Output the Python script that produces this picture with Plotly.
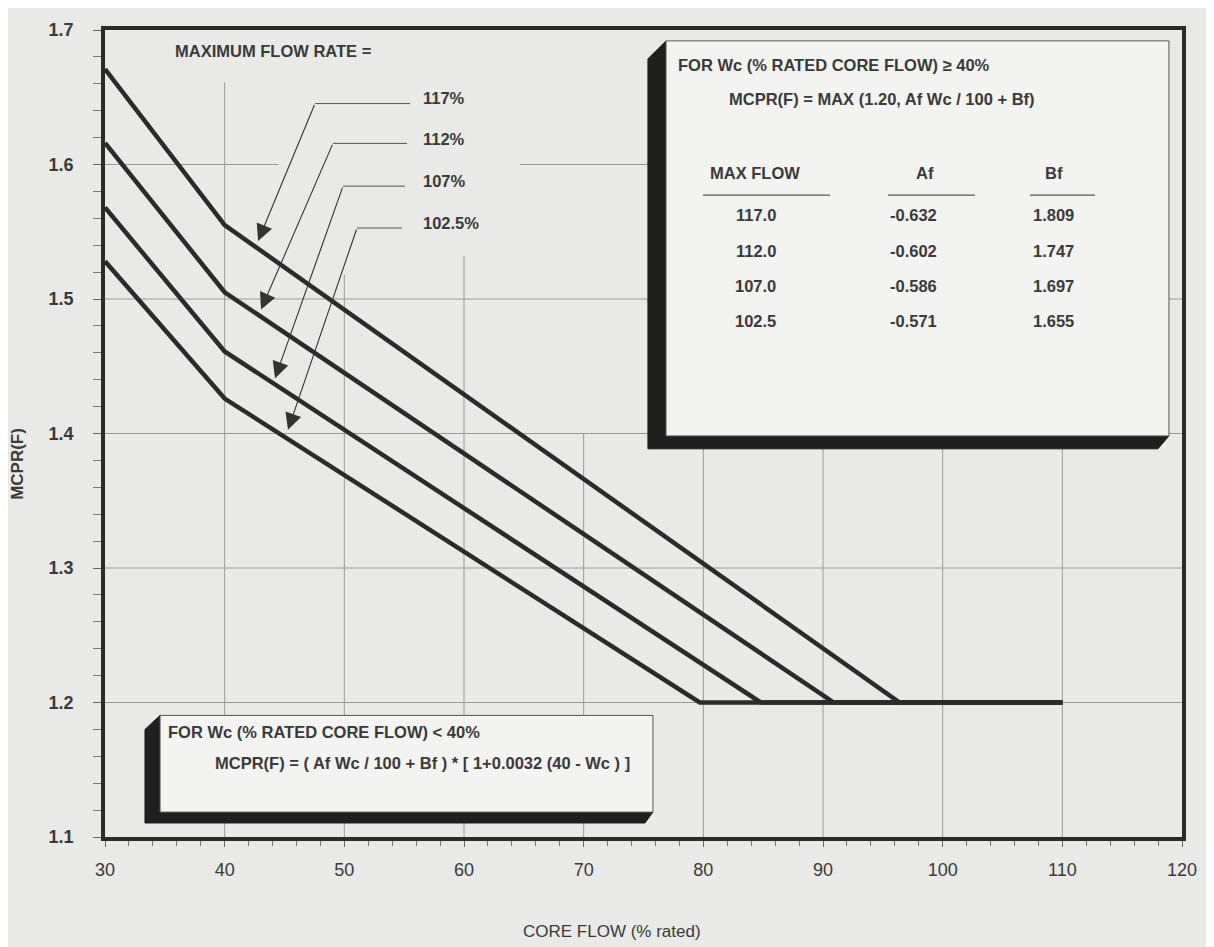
import plotly.graph_objects as go

# ---------------- data ----------------
series_names = ["117%", "112%", "107%", "102.5%"]
flow_117 = [30, 40, 96.4, 110]
mcpr_117 = [1.671, 1.555, 1.200, 1.200]
flow_112 = [30, 40, 90.9, 110]
mcpr_112 = [1.616, 1.505, 1.200, 1.200]
flow_107 = [30, 40, 84.8, 110]
mcpr_107 = [1.568, 1.461, 1.200, 1.200]
flow_1025 = [30, 40, 79.7, 110]
mcpr_1025 = [1.528, 1.426, 1.200, 1.200]

table_max_flow = ["117.0", "112.0", "107.0", "102.5"]
table_af = ["-0.632", "-0.602", "-0.586", "-0.571"]
table_bf = ["1.809", "1.747", "1.697", "1.655"]

x_ticks = [30, 40, 50, 60, 70, 80, 90, 100, 110, 120]
y_ticks = [1.1, 1.2, 1.3, 1.4, 1.5, 1.6, 1.7]
y_tick_text = ["1.1", "1.2", "1.3", "1.4", "1.5", "1.6", "1.7"]

# ---------------- styling / layout ----------------
INK = "#2b2b2b"
TXT = "#3a3a3a"
PAPER = "#e9e9e7"
FACE = "#f3f3f1"
GRID = "#9a9a9a"
FONT = "Liberation Sans, Arial, sans-serif"
FS = 16.5

fig = go.Figure()
for name, xs, ys in [("117%", flow_117, mcpr_117), ("112%", flow_112, mcpr_112),
                     ("107%", flow_107, mcpr_107), ("102.5%", flow_1025, mcpr_1025)]:
    fig.add_trace(go.Scatter(x=xs, y=ys, mode="lines", name=name,
                             line=dict(color=INK, width=4.5), showlegend=False,
                             hoverinfo="x+y"))

shapes = []
# partial grid lines (as drawn on the original sheet)
h_grid = [(1.6, 30, 44.5), (1.6, 64.7, 77), (1.5, 30, 120), (1.4, 30, 120),
          (1.3, 30, 120), (1.2, 30, 120)]
for y, x0, x1 in h_grid:
    shapes.append(dict(type="line", xref="x", yref="y", x0=x0, x1=x1, y0=y, y1=y,
                       line=dict(color=GRID, width=1), layer="below"))
v_grid = [(40, 1.661), (50, 1.518), (60, 1.532), (70, 1.40), (80, 1.40),
          (90, 1.40), (100, 1.40), (110, 1.40)]
for x, ytop in v_grid:
    shapes.append(dict(type="line", xref="x", yref="y", x0=x, x1=x, y0=1.1, y1=ytop,
                       line=dict(color=GRID, width=1), layer="below"))

# top-right 3D box
shapes.append(dict(type="path", xref="x", yref="y", layer="above",
                   path="M 76.88,1.6919 L 75.37,1.6786 L 75.37,1.3886 L 117.99,1.3886 "
                        "L 118.91,1.3982 L 76.88,1.3982 Z",
                   fillcolor="#1f1f1f", line=dict(color="#1f1f1f", width=1)))
shapes.append(dict(type="rect", xref="x", yref="y", layer="above",
                   x0=76.88, x1=118.91, y0=1.3982, y1=1.6919,
                   fillcolor=FACE, line=dict(color="#555555", width=1)))
# bottom-left 3D box
shapes.append(dict(type="path", xref="x", yref="y", layer="above",
                   path="M 34.60,1.1904 L 33.34,1.1800 L 33.34,1.1104 L 75.12,1.1104 "
                        "L 75.79,1.1185 L 34.60,1.1185 Z",
                   fillcolor="#1f1f1f", line=dict(color="#1f1f1f", width=1)))
shapes.append(dict(type="rect", xref="x", yref="y", layer="above",
                   x0=34.60, x1=75.79, y0=1.1185, y1=1.1904,
                   fillcolor=FACE, line=dict(color="#555555", width=1)))

# table underlines
for x0, x1 in [(79.97, 90.58), (95.43, 102.70), (107.30, 112.73)]:
    shapes.append(dict(type="line", xref="x", yref="y", layer="above",
                       x0=x0, x1=x1, y0=1.5772, y1=1.5772,
                       line=dict(color="#555555", width=1.2)))

# leader lines for the flow labels: (label y, horizontal end x, elbow x, elbow y, tip x, tip y)
leaders = [(1.6475, 55.49, 47.55, 1.6453, 42.79, 1.5432),
           (1.6172, 55.24, 49.05, 1.6157, 43.04, 1.4922),
           (1.5854, 55.07, 49.89, 1.5839, 44.21, 1.4411),
           (1.5543, 54.82, 51.06, 1.5528, 45.29, 1.4027)]

annotations = []
for name, (ly, hx, ex, ey, tx, ty) in zip(series_names, leaders):
    shapes.append(dict(type="line", xref="x", yref="y", x0=hx, x1=ex, y0=ey, y1=ey,
                       line=dict(color="#555555", width=1), layer="above"))
    annotations.append(dict(x=tx, y=ty, ax=ex, ay=ey, xref="x", yref="y",
                            axref="x", ayref="y", text="", showarrow=True,
                            arrowhead=2, arrowsize=3.0, arrowwidth=1.1,
                            arrowcolor="#333333", standoff=0))
    annotations.append(dict(x=56.4, y=ly + 0.002, xref="x", yref="y", text=name,
                            showarrow=False, xanchor="left", yanchor="middle",
                            font=dict(family=FONT, size=FS, color=TXT, weight="bold")))

def txt(x, y, s, size=FS, xanchor="left"):
    annotations.append(dict(x=x, y=y, xref="x", yref="y", text=s, showarrow=False,
                            xanchor=xanchor, yanchor="middle",
                            font=dict(family=FONT, size=size, color=TXT, weight="bold")))

txt(35.68, 1.6845, "MAXIMUM FLOW RATE =")
txt(77.71, 1.6741, "FOR Wc (% RATED CORE FLOW) ≥ 40%")
txt(82.0, 1.6490, "MCPR(F) = MAX (1.20, Af Wc / 100 + Bf)")
txt(84.3, 1.5935, "MAX FLOW", xanchor="center")
txt(98.5, 1.5935, "Af", xanchor="center")
txt(109.3, 1.5935, "Bf", xanchor="center")
row_y = [1.5625, 1.5358, 1.5099, 1.4840]
for ry, mf, af, bf in zip(row_y, table_max_flow, table_af, table_bf):
    txt(84.4, ry, mf, xanchor="center")
    txt(97.6, ry, af, xanchor="center")
    txt(109.3, ry, bf, xanchor="center")

txt(35.1, 1.1780, "FOR Wc (% RATED CORE FLOW) < 40%")
txt(39.02, 1.1552, "MCPR(F) = ( Af Wc / 100 + Bf ) * [ 1+0.0032 (40 - Wc ) ]")

# axis titles
annotations.append(dict(xref="paper", yref="paper", x=(18 - 105) / 1077, y=(837 - 462) / 811,
                        text="MCPR(F)", showarrow=False, textangle=-90,
                        xanchor="center", yanchor="middle",
                        font=dict(family=FONT, size=17, color=TXT, weight="bold")))
annotations.append(dict(xref="paper", yref="paper", x=(612 - 105) / 1077, y=-(932 - 837) / 811,
                        text="CORE FLOW (% rated)", showarrow=False,
                        xanchor="center", yanchor="middle",
                        font=dict(family=FONT, size=17, color=TXT)))

# the page body adds an 8px offset, so the figure is 8px smaller and margins compensate
fig.update_layout(
    width=1206, height=939,
    margin=dict(l=97, r=32, t=18, b=110),
    paper_bgcolor=PAPER, plot_bgcolor=PAPER,
    shapes=shapes, annotations=annotations,
    showlegend=False,
    xaxis=dict(range=[30, 120], tickvals=x_ticks, showgrid=False, zeroline=False,
               showline=True, mirror=True, linecolor=INK, linewidth=3.5,
               ticks="outside", ticklen=6, tickcolor="#666666", tickwidth=1,
               minor=dict(dtick=2, ticks="outside", ticklen=5, tickcolor="#777777"),
               ticklabelstandoff=8,
               tickfont=dict(family=FONT, size=18, color=TXT)),
    yaxis=dict(range=[1.1, 1.7], tickvals=y_ticks, ticktext=y_tick_text,
               showgrid=False, zeroline=False,
               showline=True, mirror=True, linecolor=INK, linewidth=3.5,
               ticks="outside", ticklen=8, tickcolor="#666666", tickwidth=1,
               minor=dict(dtick=0.02, ticks="outside", ticklen=8, tickcolor="#777777"),
               ticklabelstandoff=16,
               tickfont=dict(family=FONT, size=18, color=TXT, weight="bold")),
)

fig.write_html("out.html")
